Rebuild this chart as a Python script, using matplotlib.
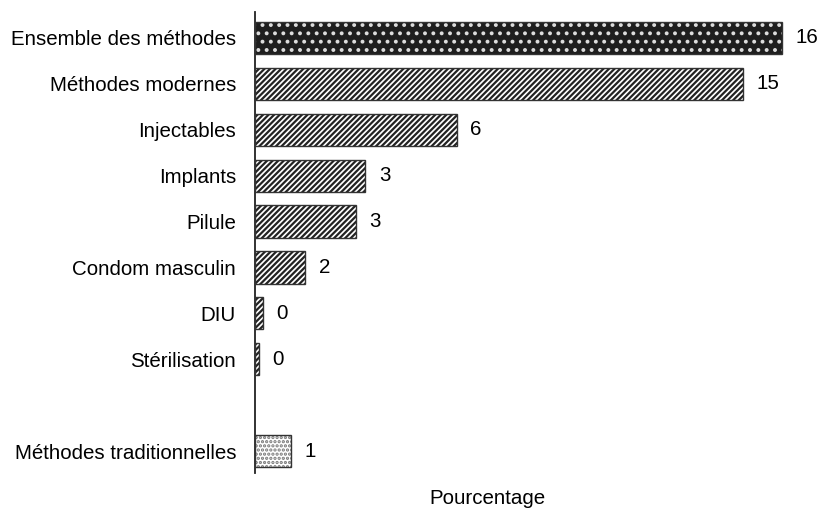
import matplotlib
matplotlib.use("Agg")
import matplotlib.pyplot as plt

plt.rcParams["font.family"] = ["Liberation Sans", "DejaVu Sans"]
plt.rcParams["hatch.linewidth"] = 1.6

# Data (percent), with the rounded labels shown on the chart
categories = ["Ensemble des méthodes", "Méthodes modernes", "Injectables",
              "Implants", "Pilule", "Condom masculin", "DIU", "Stérilisation",
              "Méthodes traditionnelles"]
values = [16.2, 15.0, 6.2, 3.4, 3.1, 1.55, 0.25, 0.12, 1.1]
labels = ["16", "15", "6", "3", "3", "2", "0", "0", "1"]
positions = [0, 1, 2, 3, 4, 5, 6, 7, 9]  # gap before traditional methods

fig = plt.figure(figsize=(8.22, 5.11), dpi=100)
ax = fig.add_axes([0.310, 0.074, 0.66, 0.903])

for i, (pos, val, lab) in enumerate(zip(positions, values, labels)):
    if i == 0:
        face, hatch, hcol = "#1e1e1e", "..", "#dddddd"
    elif i == len(values) - 1:
        face, hatch, hcol = "white", "....", "#777777"
    else:
        face, hatch, hcol = "white", "//////", "#222222"
    ax.barh(pos, val, height=0.7, color=face, hatch=hatch, edgecolor=hcol,
            linewidth=0, zorder=2)
    ax.barh(pos, val, height=0.7, color="none", edgecolor="#333333",
            linewidth=1.0, zorder=3)
    ax.text(val + 0.42, pos, lab, va="center", ha="left", fontsize=14.8)

ax.set_xlim(0, 16.67)
ax.set_ylim(9.48, -0.567)
ax.set_yticks(positions)
ax.set_yticklabels(categories, fontsize=14.8)
ax.tick_params(axis="y", length=0, pad=13.5)
ax.set_xticks([])
for side in ["top", "right", "bottom"]:
    ax.spines[side].set_visible(False)
ax.spines["left"].set_linewidth(1.3)
ax.spines["left"].set_color("#222222")

fig.text(0.593, 0.024, "Pourcentage", ha="center", va="center", fontsize=14.8)

fig.savefig("out.png", dpi=100)
